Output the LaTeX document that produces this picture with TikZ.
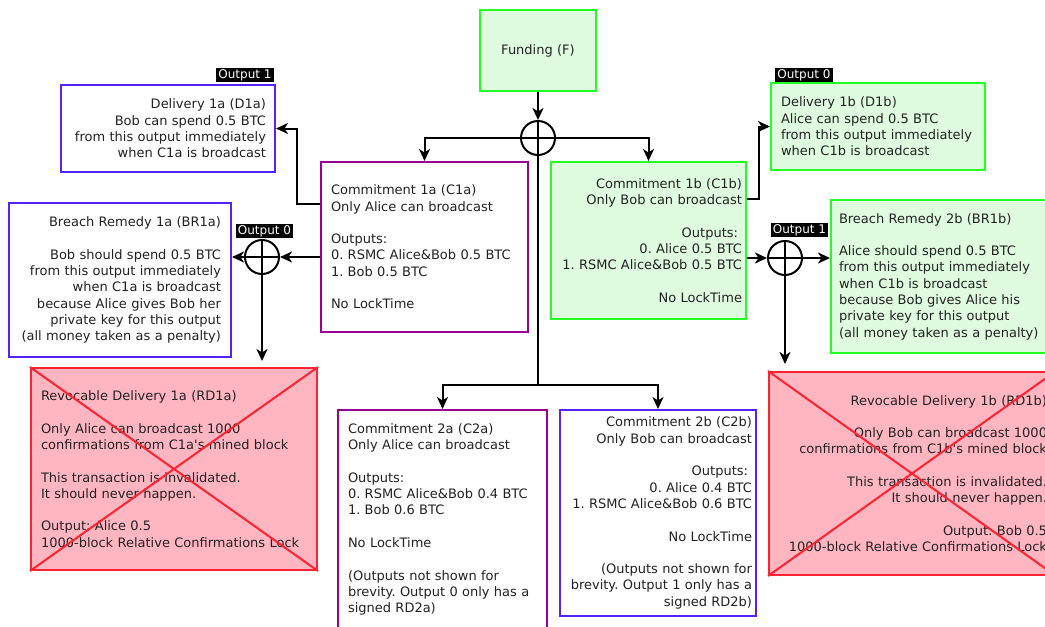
\documentclass[tikz,border=0pt]{standalone}
\usepackage{fontspec}
\setmainfont{DejaVu Sans}
\usetikzlibrary{arrows.meta,calc}

\definecolor{grnline}{HTML}{22FF22}
\definecolor{grnfill}{HTML}{E0FCE0}
\definecolor{purpline}{HTML}{990099}
\definecolor{bluline}{HTML}{5522FF}
\definecolor{redline}{HTML}{FF2233}
\definecolor{pinkfill}{HTML}{FFB6C1}
\definecolor{ink}{HTML}{222222}

\begin{document}
\frenchspacing
\hyphenpenalty=10000
\exhyphenpenalty=10000
\begin{tikzpicture}[x=1pt,y=-1pt,
  every node/.style={font=\fontsize{13}{16.3}\selectfont, text=ink},
  txbox/.style={draw, line width=2pt, inner ysep=0pt},
  % width, height, horizontal padding
  wh/.style n args={3}{minimum width=#1pt, minimum height=#2pt,
    inner xsep=#3pt, text width={#1pt-2*#3pt}},
  gbox/.style={txbox, draw=grnline, fill=grnfill},
  pbox/.style={txbox, draw=purpline, fill=white},
  bbox/.style={txbox, draw=bluline, fill=white},
  rbox/.style={txbox, draw=redline, fill=pinkfill},
  cross/.style={draw=redline, line width=2pt},
  tag/.style={fill=black, text=white, font=\fontsize{12}{12}\selectfont,
    inner xsep=2pt, inner ysep=1pt, minimum height=14pt},
  conn/.style={line width=2pt, draw=black},
  arr/.style={conn, -{Stealth[length=12pt,width=11pt,inset=3.5pt]}},
  junction/.style={circle, draw=black, line width=2pt, minimum size=34pt,
    inner sep=0pt, fill=none,
    path picture={\draw[line width=2pt]
      (path picture bounding box.north) -- (path picture bounding box.south)
      (path picture bounding box.west) -- (path picture bounding box.east);}},
]
\useasboundingbox (0,0) rectangle (1045,627);

% ---- funding and first split ----
\node[gbox, wh={116}{81}{4}, align=center] (F) at (538,50.5) {Funding (F)};
\node[junction] (J0) at (538,138) {};

% ---- commitment transactions, round 1 ----
\node[pbox, wh={207}{170}{10}, align=left] (C1a) at (424.5,247) {Commitment 1a (C1a)\\
Only Alice can broadcast\\[\baselineskip]
Outputs:\\
0. RSMC Alice\&Bob 0.5 BTC\\
1. Bob 0.5 BTC\\[\baselineskip]
No LockTime};

\node[gbox, wh={195}{157}{4}, align=right] (C1b) at (648.5,240.5) {Commitment 1b (C1b)\\
Only Bob can broadcast\\[\baselineskip]
Outputs:\kern4pt\\
0. Alice 0.5 BTC\\
1. RSMC Alice\&Bob 0.5 BTC\\[\baselineskip]
No LockTime};

% ---- deliveries ----
\node[bbox, wh={214}{87}{9}, align=right] (D1a) at (168,128.5) {Delivery 1a (D1a)\\
Bob can spend 0.5 BTC\\
from this output immediately\\
when C1a is broadcast};

\node[gbox, wh={214}{87}{10}, align=left] (D1b) at (878,126.5) {Delivery 1b (D1b)\\
Alice can spend 0.5 BTC\\
from this output immediately\\
when C1b is broadcast};

% ---- breach remedies ----
\node[bbox, wh={222}{154}{10}, align=right] (BR1a) at (120,280) {Breach Remedy 1a (BR1a)\\[\baselineskip]
Bob should spend 0.5 BTC\\
from this output immediately\\
when C1a is broadcast\\
because Alice gives Bob her\\
private key for this output\\
(all money taken as a penalty)};

\node[gbox, wh={216}{153}{8}, align=left] (BR1b) at (939,276.5) {Breach Remedy 2b (BR1b)\\[\baselineskip]
Alice should spend 0.5 BTC\\
from this output immediately\\
when C1b is broadcast\\
because Bob gives Alice his\\
private key for this output\\
(all money taken as a penalty)};

% ---- revoked deliveries ----
\node[rbox, wh={286}{202}{10}, align=left] (RD1a) at (174,469) {Revocable Delivery 1a (RD1a)\\[\baselineskip]
Only Alice can broadcast 1000\\
confirmations from C1a\textquotesingle s mined block\\[\baselineskip]
This transaction is invalidated.\\
It should never happen.\\[\baselineskip]
Output: Alice 0.5\\
1000-block Relative Confirmations Lock};
\draw[cross] (RD1a.north west) -- (RD1a.south east)
             (RD1a.south west) -- (RD1a.north east);

\node[rbox, wh={286}{203}{8}, align=right] (RD1b) at (912,473.5) {Revocable Delivery 1b (RD1b)\\[\baselineskip]
Only Bob can broadcast 1000\\
confirmations from C1b\textquotesingle s mined block\\[\baselineskip]
This transaction is invalidated.\\
It should never happen.\\[\baselineskip]
Output: Bob 0.5\\
1000-block Relative Confirmations Lock};
\draw[cross] (RD1b.north west) -- (RD1b.south east)
             (RD1b.south west) -- (RD1b.north east);

% ---- commitment transactions, round 2 ----
\node[pbox, wh={209}{219}{10}, align=left] (C2a) at (442.5,519.5) {Commitment 2a (C2a)\\
Only Alice can broadcast\\[\baselineskip]
Outputs:\\
0. RSMC Alice\&Bob 0.4 BTC\\
1. Bob 0.6 BTC\\[\baselineskip]
No LockTime\\[\baselineskip]
(Outputs not shown for\\
brevity. Output 0 only has a\\
signed RD2a)};

\node[bbox, wh={196}{206}{4}, align=right] (C2b) at (658,513) {Commitment 2b (C2b)\\
Only Bob can broadcast\\[\baselineskip]
Outputs:\kern4pt\\
0. Alice 0.4 BTC\\
1. RSMC Alice\&Bob 0.6 BTC\\[\baselineskip]
No LockTime\\[\baselineskip]
(Outputs not shown for\\
brevity. Output 1 only has a\\
signed RD2b)};

% ---- output junctions ----
\node[junction] (J1) at (262,257) {};
\node[junction] (J2) at (785,258) {};

\node[tag] (t1a) at (245,75) {Output 1};
\node[tag] (t0a) at (264.5,231) {Output 0};
\node[tag] (t0b) at (804,75) {Output 0};
\node[tag] (t1b) at (799.5,230) {Output 1};

% ---- connectors ----
\coordinate (split) at (538,385);
\draw[arr] (F) -- (J0);
\draw[arr] (J0.center) -| (C1a);
\draw[arr] (J0.center) -| (C1b);
\draw[conn] (J0.center) -- (split);
\draw[arr] (split) -| (C2a);
\draw[arr] (split) -| (C2b);

\draw[arr] ($(C1a.north west)!0.25!(C1a.south west)$) -- ++(-23,0) |- (D1a);
\draw[arr] ($(C1b.north east)!0.24!(C1b.south east)$) -- ++(12,0) |- (D1b);

\draw[arr] (C1a.west |- J1) -- (J1);
\draw[arr] (J1.east) -- (BR1a.east |- J1);
\draw[arr, shorten >=6pt] (J1.center) -- (J1 |- RD1a.north);

\draw[arr] (C1b.east |- J2) -- (J2);
\draw[arr] (J2.west) -- (BR1b.west |- J2);
\draw[arr, shorten >=7pt] (J2.center) -- (J2 |- RD1b.north);
\end{tikzpicture}
\end{document}
